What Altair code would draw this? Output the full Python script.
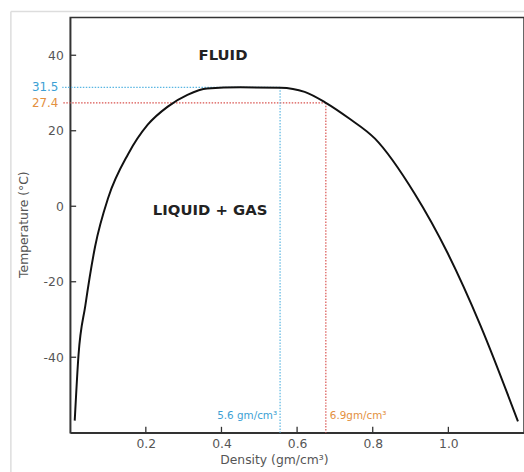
import altair as alt
import pandas as pd

# Coexistence curve (density gm/cm3, temperature C)
density = [0.012, 0.022, 0.040, 0.066, 0.101, 0.153, 0.205, 0.258, 0.31, 0.362, 0.45,
           0.556, 0.62, 0.676, 0.737, 0.806, 0.911, 0.998, 1.085, 1.184]
temperature = [-56.8, -39.4, -26.3, -10.6, 2.4, 13.8, 21.6, 26.4, 29.5, 31.2, 31.5,
               31.4, 30.3, 27.4, 23.3, 17.9, 3.3, -12.4, -31.6, -57.0]

# reference markers
ref_temp = [31.5, 27.4]
ref_dens = [0.555, 0.676]
ref_temp_labels = ["31.5", "27.4"]
ref_dens_labels = ["5.6 gm/cm\u00b3", "6.9gm/cm\u00b3"]
line_colors = ["#5ab6e2", "#d9534f"]
text_colors = ["#3c9fd4", "#e39040"]

x_ticks = [0.2, 0.4, 0.6, 0.8, 1.0]
y_ticks = [-40, -20, 0, 20, 40]

regions = ["FLUID", "LIQUID  +  GAS"]
region_x = [0.404, 0.37]
region_y = [40, -1.0]

curve = pd.DataFrame({"d": density, "t": temperature, "i": range(len(density))})
refs = pd.DataFrame({"t": ref_temp, "d": ref_dens, "tl": ref_temp_labels,
                     "dl": ref_dens_labels, "lc": line_colors, "tc": text_colors,
                     "ylab": [-55.5, -55.5]})

X = alt.Scale(domain=[0, 1.2], nice=False, zero=False)
Y = alt.Scale(domain=[-60, 50], nice=False, zero=False)
FONT = "DejaVu Sans"
GRAY = "#555555"

base_axes = alt.Chart(curve).mark_line(opacity=0).encode(
    x=alt.X("d:Q", scale=X, axis=alt.Axis(
        values=x_ticks, format=".1f", ticks=False, domain=True, domainColor="#333",
        domainWidth=1.5, grid=False, labelFont=FONT, labelFontSize=12.5,
        labelColor=GRAY, labelPadding=5, title="Density (gm/cm\u00b3)",
        titleFont=FONT, titleFontSize=12.5, titleFontWeight="normal", titleColor=GRAY,
        titleX=206, titleY=27, titleBaseline="middle")),
    y=alt.Y("t:Q", scale=Y, axis=alt.Axis(
        values=y_ticks, ticks=False, domain=True, domainColor="#333", domainWidth=1.5,
        grid=False, labelFont=FONT, labelFontSize=12.5, labelColor=GRAY, labelPadding=7,
        labelExpr="'' + datum.value",
        title="Temperature (\u00b0C)", titleFont=FONT, titleFontSize=12.5,
        titleFontWeight="normal", titleColor=GRAY, titleX=-47, titleY=209,
        titleBaseline="middle", titleAngle=270)),
)

xt = alt.Chart(pd.DataFrame({"v": x_ticks})).mark_rule(color="#333", strokeWidth=1.3).encode(
    x=alt.X("v:Q", scale=X), y=alt.value(414), y2=alt.value(420))
yt = alt.Chart(pd.DataFrame({"v": y_ticks})).mark_rule(color="#333", strokeWidth=1.3).encode(
    y=alt.Y("v:Q", scale=Y), x=alt.value(0), x2=alt.value(6))

hlines = alt.Chart(refs).mark_rule(strokeDash=[1.5, 1.5], strokeWidth=1.2).encode(
    y=alt.Y("t:Q", scale=Y), x=alt.X("d:Q", scale=X), x2=alt.value(-8),
    color=alt.Color("lc:N", scale=None))
vlines = alt.Chart(refs).mark_rule(strokeDash=[1.5, 1.5], strokeWidth=1.2).encode(
    x=alt.X("d:Q", scale=X), y=alt.Y("t:Q", scale=Y), y2=alt.value(420),
    color=alt.Color("lc:N", scale=None))

tlabels = alt.Chart(refs).mark_text(align="right", baseline="middle", font=FONT,
                                    fontSize=12).encode(
    y=alt.Y("t:Q", scale=Y), x=alt.value(-12), text="tl:N",
    color=alt.Color("tc:N", scale=None))

dl1 = alt.Chart(refs.iloc[[0]]).mark_text(align="right", baseline="middle", font=FONT,
                                          fontSize=10.5, dx=-3).encode(
    x=alt.X("d:Q", scale=X), y=alt.Y("ylab:Q", scale=Y), text="dl:N",
    color=alt.Color("tc:N", scale=None))
dl2 = alt.Chart(refs.iloc[[1]]).mark_text(align="left", baseline="middle", font=FONT,
                                          fontSize=10.5, dx=4).encode(
    x=alt.X("d:Q", scale=X), y=alt.Y("ylab:Q", scale=Y), text="dl:N",
    color=alt.Color("tc:N", scale=None))

line = alt.Chart(curve).mark_line(color="#111", strokeWidth=2, interpolate="monotone").encode(
    x=alt.X("d:Q", scale=X), y=alt.Y("t:Q", scale=Y), order="i:Q")

reg = alt.Chart(pd.DataFrame({"x": region_x, "y": region_y, "s": regions})).mark_text(
    font=FONT, fontWeight="bold", fontSize=15, color="#222", align="center",
    baseline="middle").encode(x=alt.X("x:Q", scale=X), y=alt.Y("y:Q", scale=Y), text="s:N")

frame = alt.Chart(pd.DataFrame({"a": [0]})).mark_rule(color="#dddddd", strokeWidth=1.5).encode(
    x=alt.value(-60), y=alt.value(-6), y2=alt.value(460))
frame_top = alt.Chart(pd.DataFrame({"a": [0]})).mark_rule(color="#dddddd", strokeWidth=1.5).encode(
    x=alt.value(-60), x2=alt.value(460), y=alt.value(-6))

chart = alt.layer(frame, frame_top, base_axes, xt, yt, hlines, vlines, tlabels, dl1, dl2,
                  line, reg).properties(
    width=459, height=420,
    background="white",
    autosize=alt.AutoSizeParams(type="none"),
    padding={"left": 71, "top": 15, "right": 0, "bottom": 37},
).configure_view(stroke="#333", strokeWidth=1.5)

chart.save("out.html", embed_options={"renderer": "svg", "actions": False})
